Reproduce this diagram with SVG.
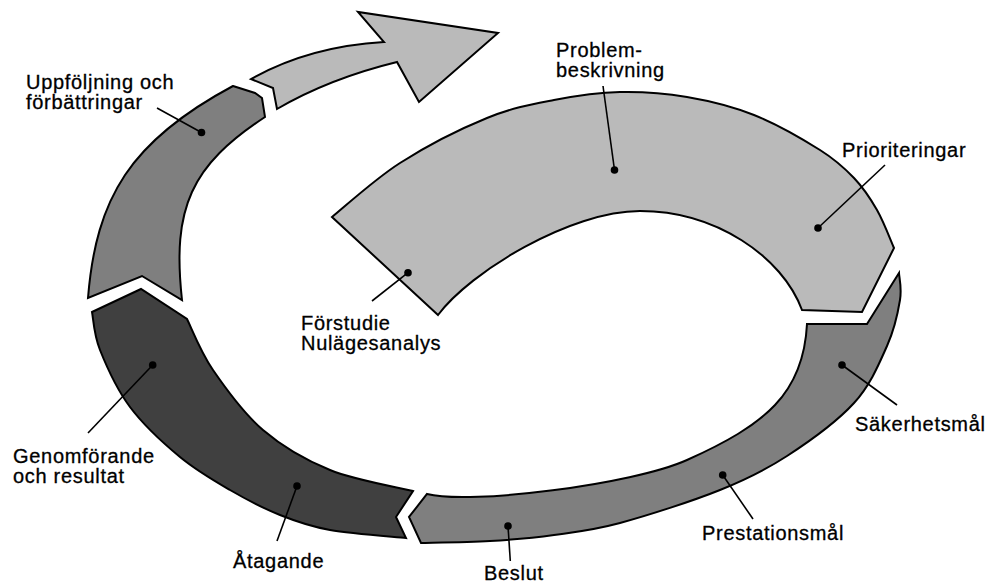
<svg xmlns="http://www.w3.org/2000/svg" width="987" height="583" viewBox="0 0 987 583">
<style>
.seg{stroke:#000;stroke-width:2;stroke-linejoin:miter}
.light{fill:#bababa}
.mid{fill:#7f7f7f}
.dark{fill:#404040}
.lead{stroke:#000;stroke-width:1.6;fill:none}
.dot{fill:#000}
text{font-family:"Liberation Sans",Arial,sans-serif;font-size:20px;letter-spacing:0.7px;fill:#000;stroke:#000;stroke-width:0.3}
</style>
<rect width="987" height="583" fill="#fff"/>
<g id="arrow">
<path class="seg light" d="M251,79 L273,88 L277,109 Q329.3,78.5 397,62 L419,102 L498,33 L358,12 L384,42 Q309.3,46.3 251,79 Z"/>
</g>
<g id="problem">
<path class="seg light" d="M332,217 C343.3,208 374.2,179.5 400,163 C425.8,146.5 461.3,128.5 487,118 C512.7,107.5 531.8,104.3 554,100 C576.2,95.7 597.8,92.5 620,92 C642.2,91.5 664.7,93.2 687,97 C709.3,100.8 731.8,106.2 754,115 C776.2,123.8 803.3,139.5 820,150 C836.7,160.5 844.5,168 854,178 C863.5,188 870.3,198.3 877,210 C883.7,221.7 891.2,241.7 894,248 L862,312 L802,310 C782,256 715,211 640,211 C570,211 470,272 438,315 Z"/>
</g>
<g id="bottom">
<path class="seg mid" d="M899,273 C899.2,277.5 902,287.8 900,300 C898,312.2 894.7,328.8 887,346 C879.3,363.2 870.7,384.7 854,403 C837.3,421.3 809.3,441.5 787,456 C764.7,470.5 747.8,478.8 720,490 C692.2,501.2 647.7,515.5 620,523 C592.3,530.5 575.7,532 554,535 C532.3,538 512.2,539.7 490,541 C467.8,542.3 432.5,542.7 421,543 L409,517 L427,494 C470,505 632.4,484.6 687,460 C765.2,424.8 803.5,393.9 807,324 L867,324 Z"/>
</g>
<g id="genomforande">
<path class="seg dark" d="M92,312 L141,289 L187,319 C191.3,327.5 200.3,351.5 213,370 C225.7,388.5 243.5,413.3 263,430 C282.5,446.7 305,459.8 330,470 C355,480.2 399.2,487.5 413,491 L396,517 L406,538 C393.3,536.7 351,533.8 330,530 C309,526.2 296.7,521.7 280,515 C263.3,508.3 246.7,499.7 230,490 C213.3,480.3 196.7,470.8 180,457 C163.3,443.2 143.3,424.8 130,407 C116.7,389.2 106.3,365.8 100,350 C93.7,334.2 93.3,318.3 92,312 Z"/>
</g>
<g id="uppfoljning">
<path class="seg mid" d="M233,86 L255,93 L262,98 L265,117 C191.2,165.6 171.8,207.4 182,300 L142,276 L88,298 C96,197.9 130.4,140.8 233,86 Z"/>
</g>
<g id="connectors">
<line class="lead" x1="157" y1="108" x2="201.5" y2="132.5"/>
<line class="lead" x1="603" y1="86" x2="614.5" y2="170"/>
<line class="lead" x1="885" y1="165" x2="818" y2="228"/>
<line class="lead" x1="372" y1="301" x2="408" y2="272.7"/>
<line class="lead" x1="897" y1="405" x2="842" y2="365"/>
<line class="lead" x1="753" y1="519" x2="722.7" y2="475"/>
<line class="lead" x1="510.3" y1="561" x2="508" y2="526"/>
<line class="lead" x1="277" y1="541" x2="297" y2="486"/>
<line class="lead" x1="88" y1="433" x2="152.7" y2="365"/>
</g>
<g id="dots">
<circle class="dot" cx="201.5" cy="132.5" r="3.8"/>
<circle class="dot" cx="614.5" cy="170" r="3.8"/>
<circle class="dot" cx="818" cy="228" r="3.8"/>
<circle class="dot" cx="408" cy="272.7" r="3.8"/>
<circle class="dot" cx="842" cy="365" r="3.8"/>
<circle class="dot" cx="722.7" cy="475" r="3.8"/>
<circle class="dot" cx="508" cy="526" r="3.8"/>
<circle class="dot" cx="297" cy="486" r="3.8"/>
<circle class="dot" cx="152.7" cy="365" r="3.8"/>
</g>
<g id="labels">
<text x="26" y="89">Uppföljning och</text>
<text x="26" y="109">förbättringar</text>
<text x="556" y="57">Problem-</text>
<text x="556" y="77">beskrivning</text>
<text x="842" y="157">Prioriteringar</text>
<text x="301" y="330">Förstudie</text>
<text x="301" y="350">Nulägesanalys</text>
<text x="855" y="431">Säkerhetsmål</text>
<text x="13" y="463">Genomförande</text>
<text x="13" y="483">och resultat</text>
<text x="233" y="568">Åtagande</text>
<text x="702" y="540">Prestationsmål</text>
<text x="484" y="580">Beslut</text>
</g>
</svg>
